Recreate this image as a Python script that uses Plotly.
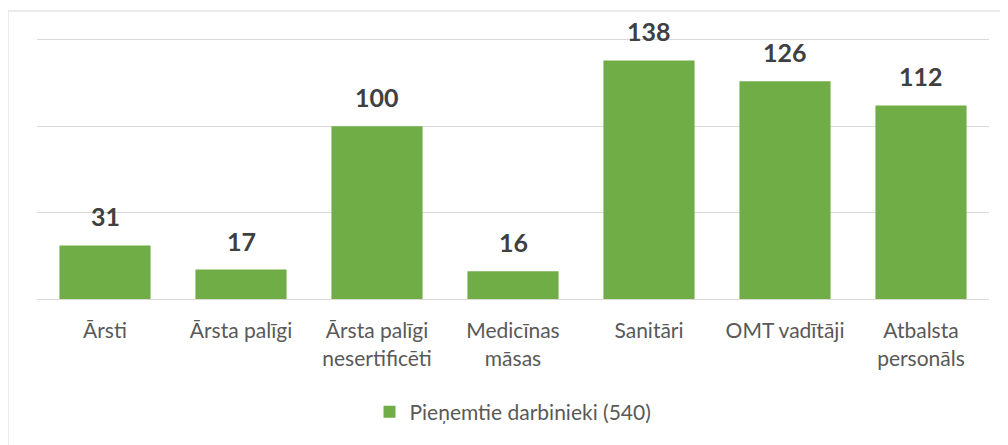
import plotly.graph_objects as go

categories = ["Ārsti", "Ārsta palīgi", "Ārsta palīgi<br>nesertificēti", "Medicīnas<br>māsas",
              "Sanitāri", "OMT vadītāji", "Atbalsta<br>personāls"]
values = [31, 17, 100, 16, 138, 126, 112]
series_name = "Pieņemtie darbinieki (540)"

FONT = "Lato, 'Open Sans', sans-serif"

fig = go.Figure()
fig.add_trace(go.Bar(
    x=categories, y=values, name=series_name,
    marker=dict(color="#70AD47", line=dict(width=0)),
    showlegend=True,
))

for c, v in zip(categories, values):
    fig.add_annotation(x=c, y=v, text=f"<b>{v}</b>", showarrow=False,
                       yanchor="bottom", yshift=12,
                       font=dict(family=FONT, size=25, color="#404040"))

# page has an 8px body margin, so the figure is offset by 8px
W, H = 1000, 437
L, R, T, B = 29, 19, 30, 146
pw, ph = W - L - R, H - T - B

fig.update_layout(
    width=W, height=H,
    margin=dict(l=L, r=R, t=T, b=B, autoexpand=False),
    paper_bgcolor="white", plot_bgcolor="white",
    bargap=0.33,
    font=dict(family=FONT, size=21, color="#595959"),
    showlegend=True,
    legend=dict(orientation="h", x=0.5, xanchor="center", y=-113 / ph, yanchor="middle",
                font=dict(family=FONT, size=21, color="#595959"), itemwidth=30),
    xaxis=dict(showline=True, linecolor="#D9D9D9", linewidth=1, ticks="",
               ticklabelstandoff=13,
               tickfont=dict(family=FONT, size=21, color="#595959")),
    yaxis=dict(range=[0, 151], tickvals=[0, 50, 100, 150], showticklabels=False, showgrid=True,
               gridcolor="#D9D9D9", gridwidth=1, zeroline=False, showline=False),
)
fig.add_shape(type="rect", xref="paper", yref="paper",
              x0=-L / pw, x1=1 + 60 / pw, y0=-(B + 60) / ph, y1=1 + 27 / ph,
              line=dict(color="#D9D9D9", width=1))

fig.write_html("out.html")
